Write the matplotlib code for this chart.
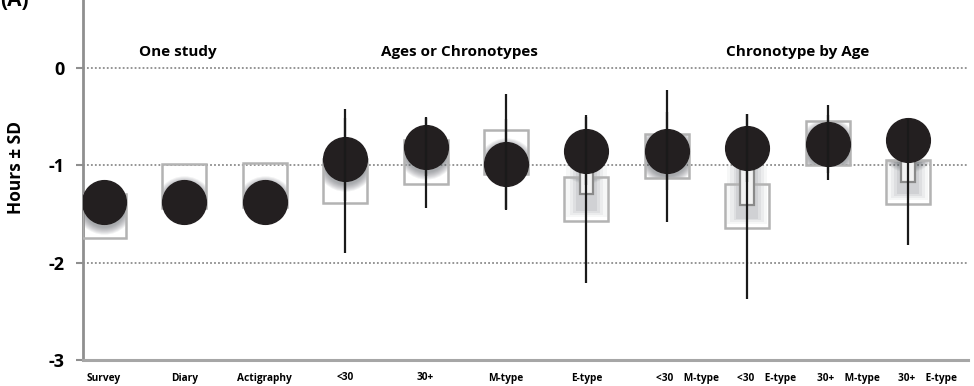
import numpy as np
import matplotlib.pyplot as plt
from matplotlib.patches import Rectangle

plt.rcParams['font.family'] = ['Open Sans', 'DejaVu Sans']

labels = ['Survey', 'Diary', 'Actigraphy', '<30', '30+', 'M-type', 'E-type',
          '<30    M-type', '<30    E-type', '30+    M-type', '30+    E-type']
circle_mean = [-1.38, -1.38, -1.38, -0.94, -0.81, -0.99, -0.85, -0.85, -0.82, -0.78, -0.74]
circle_sd = [0, 0, 0, 0.43, 0.30, 0.47, 0.35, 0.40, 0.35, 0.30, 0.0]
box_mean = [-1.52, -1.21, -1.20, -1.16, -0.97, -0.86, -1.345, -0.905, -1.42, -0.77, -1.17]
box_sd = [0, 0, 0, 0.74, 0.47, 0.59, 0.865, 0.675, 0.95, 0.385, 0.645]
inner_top = [None] * 6 + [-1.0, None, -1.01, None, -0.94]
inner_bottom = [None] * 6 + [-1.30, None, -1.405, None, -1.17]
groups = ['One study', 'Ages or Chronotypes', 'Chronotype by Age']

x = np.arange(len(labels))
box_w, box_h = 0.545, 0.45

fig = plt.figure(figsize=(9.74, 3.86), dpi=100)
ax = fig.add_axes([83 / 974, 26 / 386, 885 / 974, 360 / 386])
ax.set_xlim(-0.261, 10.746)
ax.set_ylim(-3, 0.697)

# dotted reference lines
for yv in [0, -1, -2]:
    ax.axhline(yv, color='#8c8c8c', lw=1.3, ls=(0, (1, 1.2)), zorder=1)

for i in x:
    x0, y0 = i - box_w / 2, box_mean[i] - box_h / 2
    ax.add_patch(Rectangle((x0, y0), box_w, box_h, fill=False,
                           ec='#b3b3b3', lw=1.8, zorder=3))
    # soft shadow of the circle, showing only inside the box
    clip = Rectangle((x0, y0), box_w, box_h, transform=ax.transData)
    for s in np.linspace(42, 32, 8):
        glow = ax.scatter([i], [circle_mean[i] - 0.03], s=s ** 2, color='#4f565b',
                          alpha=0.08, lw=0, zorder=2)
        glow.set_clip_path(clip)
    if inner_top[i] is not None:
        # shaded well around the inner bar
        for w, a in [(0.50, 0.05), (0.42, 0.07), (0.34, 0.09), (0.27, 0.11)]:
            top = inner_top[i]
            bot = y0 + 0.04 + (0.50 - w) * 0.25
            band = Rectangle((i - w / 2, bot), w, top - bot,
                             color='#5f666b', alpha=a, lw=0, zorder=2)
            ax.add_patch(band)
        ax.add_patch(Rectangle((i - 0.085, inner_bottom[i]), 0.17,
                               inner_top[i] - inner_bottom[i],
                               fc='#f2f2f2', ec='#8a8a8a', lw=1.6, zorder=3))

ax.errorbar(x, box_mean, yerr=box_sd, fmt='none', ecolor='#1a1a1a',
            elinewidth=1.6, capsize=0, zorder=5)
ax.plot(x, circle_mean, 'o', ms=31.5, color='#231f20', mec='#231f20', zorder=4)
ax.errorbar(x, circle_mean, yerr=circle_sd, fmt='none', ecolor='#1a1a1a',
            elinewidth=1.6, capsize=0, zorder=5)

# axes styling
for side in ['top', 'right']:
    ax.spines[side].set_visible(False)
ax.spines['left'].set_color('#8f8f8f')
ax.spines['left'].set_linewidth(2)
ax.spines['bottom'].set_color('#a6a6a6')
ax.spines['bottom'].set_linewidth(2.2)
ax.set_yticks([0, -1, -2, -3])
ax.set_yticklabels(['0', '-1', '-2', '-3'], fontsize=13, fontweight='bold')
ax.tick_params(axis='y', length=5, width=1.5, color='#8f8f8f', pad=8)
ax.set_xticks([])
ax.set_ylabel('Hours \u00b1 SD', fontsize=12.5, fontweight='bold')
ax.yaxis.set_label_coords(-0.066, 0.536)

for i, lab in enumerate(labels):
    if i < 7:
        ax.text(i, -0.05, lab, transform=ax.get_xaxis_transform(), ha='center',
                va='center', fontsize=7.3, fontweight='bold')
    else:
        ax.text(i - 0.13, -0.05, lab, transform=ax.get_xaxis_transform(),
                ha='left', va='center', fontsize=7.3, fontweight='bold')

for gx, g in zip([0.92, 4.42, 8.63], groups):
    ax.text(gx, 0.165, g, ha='center', va='center', fontsize=11, fontweight='bold')

fig.text(0.0, 1.0, '(A)', ha='left', va='center', fontsize=15, fontweight='bold')

fig.savefig('out.png', dpi=100)
